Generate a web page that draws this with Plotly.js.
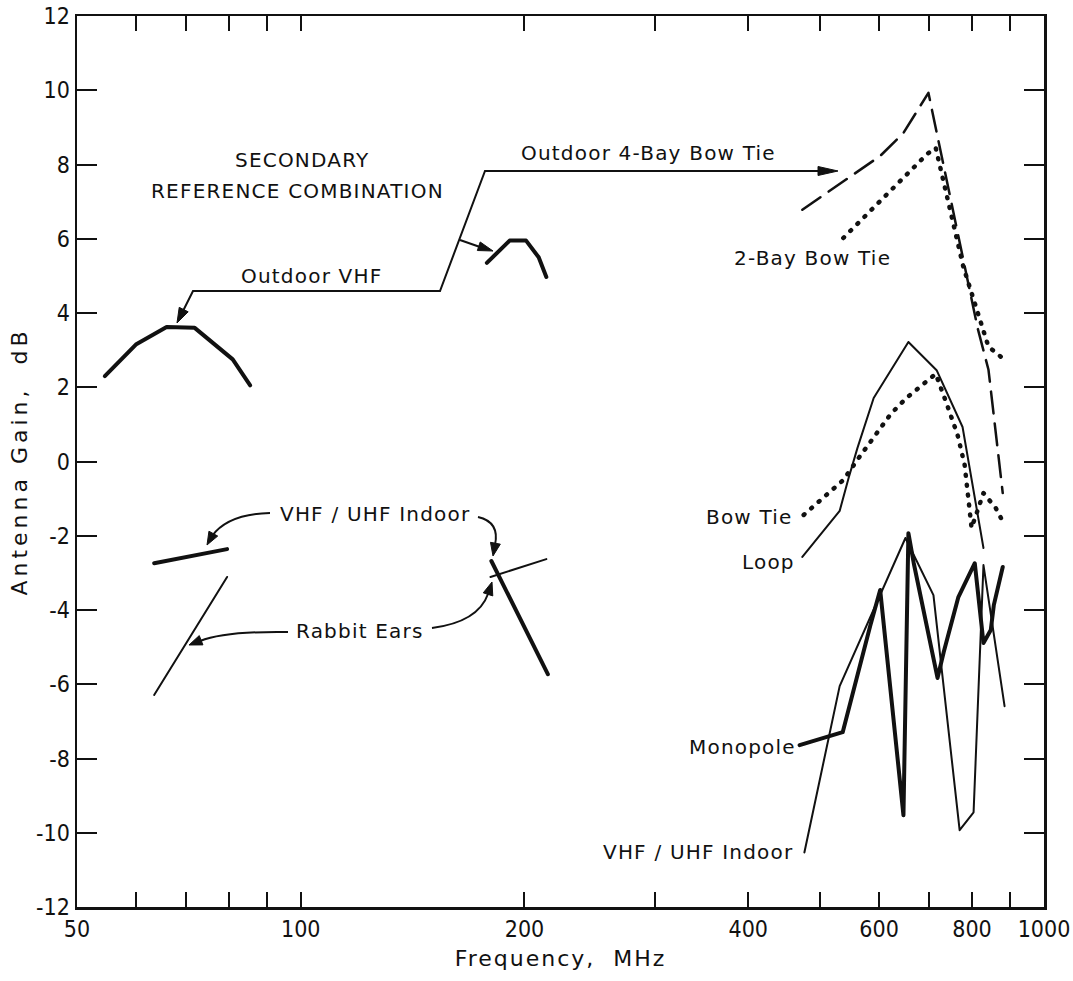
<!DOCTYPE html>
<html>
<head>
<meta charset="utf-8">
<script src="https://cdn.plot.ly/plotly-3.0.1.min.js"></script>
<style>
html,body{margin:0;padding:0;background:#fff;}
#chart{width:1073px;height:981px;}
.scatterlayer .js-line{stroke-linecap:round;stroke-linejoin:round;}
.annotation-text{letter-spacing:1.2px;}
.xtitle{letter-spacing:2px;}
.ytitle{letter-spacing:4px;}
</style>
</head>
<body>
<div id="chart"></div>
<script>
// ---- Data (frequency in MHz, gain in dB) ----
const outdoorVhfFreq = [54.5, 60, 66, 72, 81, 85.5, null, 178, 191, 201, 209, 214];
const outdoorVhfGain = [2.3, 3.15, 3.62, 3.6, 2.75, 2.05, null, 5.35, 5.95, 5.95, 5.5, 4.97];

const fourBayFreq = [473, 602, 647, 699, 814, 842, 880];
const fourBayGain = [6.78, 8.23, 8.85, 9.93, 3.6, 2.47, -0.85];

const twoBayFreq = [537, 627, 697, 715, 779, 842, 885];
const twoBayGain = [6.02, 7.37, 8.29, 8.45, 5.24, 3.09, 2.74];

const bowTieFreq = [475, 505, 537, 563, 591, 622, 653, 693, 715, 739, 765, 782, 792, 799, 829, 861, 885];
const bowTieGain = [-1.44, -0.96, -0.5, 0.09, 0.69, 1.28, 1.71, 2.14, 2.36, 1.58, 0.72, -0.09, -0.98, -1.79, -0.85, -1.25, -1.71];

const loopFreq = [473, 531, 546, 561, 590, 657, 717, 777, 829];
const loopGain = [-2.57, -1.33, -0.44, 0.36, 1.71, 3.22, 2.46, 0.93, -2.33];

const monopoleFreq = [469, 508, 536, 584, 602, 647, 657, 668, 719, 733, 767, 807, 817, 829, 848, 856, 880];
const monopoleGain = [-7.64, -7.42, -7.29, -4.41, -3.46, -9.53, -1.93, -2.74, -5.83, -5.13, -3.65, -2.74, -3.65, -4.89, -4.54, -3.87, -2.84];

const indoorVhfFreq = [63.5, 79.6, null, 180.5, 215];
const indoorVhfGain = [-2.74, -2.36, null, -2.68, -5.73];

const indoorUhfFreq = [476, 531, 651, 710, 770, 804, 829, 885];
const indoorUhfGain = [-10.53, -6.05, -2.06, -3.6, -9.93, -9.45, -2.79, -6.59];

const rabbitEarsFreq = [63.5, 79.6, null, 180, 214];
const rabbitEarsGain = [-6.29, -3.11, null, -3.11, -2.63];

const xTickVals = [50, 60, 70, 80, 90, 100, 200, 300, 400, 500, 600, 700, 800, 900, 1000];
const xTickText = ['50', '', '', '', '', '100', '200', '', '400', '', '600', '', '800', '', '1000'];
const yTickVals = [-12, -10, -8, -6, -4, -2, 0, 2, 4, 6, 8, 10, 12];
const yTickText = ['-12', '-10', '-8', '-6', '-4', '-2', '0', '2', '4', '6', '8', '10', '12'];

// ---- Styling ----
const INK = '#111';
const labelFont = {family: 'DejaVu Sans, Noto Sans, sans-serif', size: 20, color: INK};
const tickFont = {family: 'Liberation Sans Narrow, DejaVu Sans Condensed, Arial Narrow, sans-serif', size: 23, color: INK};

function line(x, y, width, dash) {
  return {x: x, y: y, type: 'scatter', mode: 'lines', hoverinfo: 'skip', connectgaps: false,
          line: {color: INK, width: width, dash: dash || 'solid'}};
}

const traces = [
  line(outdoorVhfFreq, outdoorVhfGain, 4),
  line(fourBayFreq, fourBayGain, 2.5, '22px,10px'),
  line(twoBayFreq, twoBayGain, 4.5, '1px,9px'),
  line(bowTieFreq, bowTieGain, 4.5, '1px,9px'),
  line(loopFreq, loopGain, 2),
  line(indoorUhfFreq, indoorUhfGain, 2),
  line(monopoleFreq, monopoleGain, 4),
  line(indoorVhfFreq, indoorVhfGain, 4),
  line(rabbitEarsFreq, rabbitEarsGain, 2)
];

// plot area in page pixels (for placing labels & leaders)
const L = 77, R = 1044, T = 16, B = 907;
const px = x => (x - L) / (R - L);
const py = y => (B - y) / (B - T);
const P = (x, y) => px(x).toFixed(5) + ',' + py(y).toFixed(5);

function pathShape(d, w) {
  return {type: 'path', xref: 'paper', yref: 'paper', path: d, line: {color: INK, width: w || 2}};
}
function head(tx, ty, fx, fy, len, hw) {
  len = len || 15; hw = hw || 4.5;
  const dx = tx - fx, dy = ty - fy, n = Math.hypot(dx, dy);
  const ux = dx / n, uy = dy / n;
  const bx = tx - ux * len, by = ty - uy * len;
  const d = 'M' + P(tx, ty) + ' L' + P(bx - uy * hw, by + ux * hw) + ' L' + P(bx + uy * hw, by - ux * hw) + ' Z';
  return {type: 'path', xref: 'paper', yref: 'paper', path: d, fillcolor: INK, line: {color: INK, width: 1}};
}

const shapes = [
  // Outdoor VHF leader + Outdoor 4-Bay leader
  pathShape('M' + P(182, 313) + ' L' + P(193, 291) + ' L' + P(440, 291) + ' L' + P(485, 171) + ' L' + P(822, 171)),
  head(177, 323, 193, 291, 15, 5),
  head(838, 171, 485, 171, 20, 4.5),
  // small arrow to high-VHF curve
  pathShape('M' + P(460, 240) + ' L' + P(480, 247)),
  head(493, 251, 460, 240, 15, 4.5),
  // VHF/UHF Indoor curved arrows
  pathShape('M' + P(270, 513) + ' Q' + P(228, 514) + ' ' + P(212, 536)),
  head(207, 545, 222, 518, 13, 5),
  pathShape('M' + P(478, 517) + ' Q' + P(500, 522) + ' ' + P(495, 545)),
  head(493, 556, 499, 524, 13, 5),
  // Rabbit Ears curved arrows
  pathShape('M' + P(288, 632) + ' Q' + P(225, 631) + ' ' + P(200, 641)),
  head(189, 645, 222, 632, 13, 5),
  pathShape('M' + P(432, 628) + ' Q' + P(478, 622) + ' ' + P(488, 594)),
  head(492, 582, 483, 610, 13, 5)
];

function txt(t, cx, cy) {
  return {text: t, xref: 'paper', yref: 'paper', x: px(cx), y: py(cy), xanchor: 'center', yanchor: 'middle',
          showarrow: false, font: labelFont};
}
const annotations = [
  txt('SECONDARY', 302, 160),
  txt('REFERENCE COMBINATION', 297, 191),
  txt('Outdoor VHF', 311, 276),
  txt('Outdoor 4-Bay Bow Tie', 648, 153),
  txt('2-Bay Bow Tie', 812, 258),
  txt('Bow Tie', 749, 517),
  txt('Loop', 768, 562),
  txt('Monopole', 742, 747),
  txt('VHF / UHF Indoor', 698, 852),
  txt('VHF / UHF Indoor', 375, 514),
  txt('Rabbit Ears', 360, 631)
];

const layout = {
  width: 1073, height: 981,
  margin: {l: L, r: 1073 - R, t: T, b: 981 - B, pad: 0},
  paper_bgcolor: '#fff', plot_bgcolor: '#fff',
  showlegend: false,
  xaxis: {
    type: 'log', range: [Math.log10(50), 3], fixedrange: true,
    tickvals: xTickVals, ticktext: xTickText,
    ticks: 'inside', ticklen: 15, tickwidth: 2, tickcolor: INK,
    showline: true, linecolor: INK, linewidth: 2.5, mirror: 'ticks',
    showgrid: false, zeroline: false, tickfont: tickFont, automargin: false,
    title: {text: 'Frequency,\u00a0\u00a0MHz', font: {family: 'DejaVu Sans, sans-serif', size: 22, color: INK}, standoff: 10}
  },
  xaxis2: {
    type: 'log', range: [Math.log10(50), 3], overlaying: 'x', anchor: 'y', side: 'bottom',
    tickvals: [100], ticktext: [''], ticks: 'inside', ticklen: 28, tickwidth: 2, tickcolor: INK,
    showline: false, mirror: 'ticks', showgrid: false, zeroline: false, showticklabels: false
  },
  yaxis: {
    range: [-12, 12], fixedrange: true,
    tickvals: yTickVals, ticktext: yTickText,
    ticks: 'inside', ticklen: 20, tickwidth: 2, tickcolor: INK,
    showline: true, linecolor: INK, linewidth: 2.5, mirror: 'ticks',
    showgrid: false, zeroline: false, tickfont: tickFont, automargin: false,
    title: {text: 'Antenna Gain,\u00a0\u00a0dB', font: {family: 'DejaVu Sans, sans-serif', size: 22, color: INK}, standoff: 3}
  },
  shapes: shapes,
  annotations: annotations
};

Plotly.newPlot('chart', traces, layout, {staticPlot: true, displayModeBar: false});
</script>
</body>
</html>
